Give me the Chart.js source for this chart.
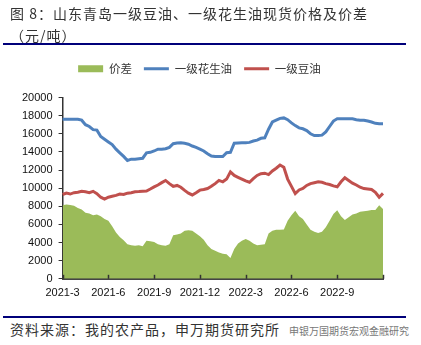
<!DOCTYPE html>
<html>
<head>
<meta charset="utf-8">
<script src="https://cdn.jsdelivr.net/npm/chart.js@4.4.0/dist/chart.umd.min.js"></script>
<style>
  body { margin: 0; background: #fff; }
  #wrap { position: relative; width: 421px; height: 345px; overflow: hidden; }
  #chart { position: absolute; left: 0; top: 0; }
  .cn { position: absolute; font-family: "Noto Sans CJK SC", sans-serif; color: #333; white-space: nowrap; }
  .rule { position: absolute; left: 3px; width: 403px; height: 2px; background: #00007a; }
</style>
</head>
<body>
<div id="wrap">
  <canvas id="chart" width="421" height="312"></canvas>
  <div class="cn" style="left:10px; top:3px; font-size:14px; letter-spacing:1px;">图 8：山东青岛一级豆油、一级花生油现货价格及价差</div>
  <div class="cn" style="left:10px; top:25px; font-size:14px; letter-spacing:1px;">（元/吨）</div>
  <div class="rule" style="top:43px;"></div>
  <div class="rule" style="top:316px;"></div>
  <div class="cn" style="left:10px; top:319px; font-size:14px; letter-spacing:1px;">资料来源：我的农产品，申万期货研究所</div>
  <div class="cn" style="left:289px; top:323px; font-size:10px; color:#777;">申银万国期货宏观金融研究</div>
</div>
<script>
// months on the x axis, 4 readings per month, last reading at 2022-12
const months = ['2021-3', '2021-4', '2021-5', '2021-6', '2021-7', '2021-8', '2021-9', '2021-10',
    '2021-11', '2021-12', '2022-1', '2022-2', '2022-3', '2022-4', '2022-5', '2022-6', '2022-7',
    '2022-8', '2022-9', '2022-10', '2022-11', '2022-12'];
const perMonth = 4;

// 一级花生油
const peanut = [17600, 17600, 17600, 17600, 17600, 17500, 17000, 16800, 16450, 16400,
    15700, 15400, 15100, 14800, 14300, 13900, 13500, 13050, 13200, 13200,
    13250, 13300, 13900, 13950, 14100, 14300, 14300, 14350, 14500, 14900,
    14980, 15000, 14950, 14850, 14650, 14500, 14300, 14100, 13800, 13550,
    13500, 13480, 13480, 13900, 13950, 14950, 14980, 15000, 15000, 15050,
    15200, 15300, 15500, 15550, 16500, 17300, 17500, 17700, 17750, 17550,
    17200, 16900, 16650, 16550, 16350, 16000, 15800, 15800, 15850, 16200,
    16800, 17400, 17650, 17650, 17650, 17650, 17650, 17550, 17500, 17480,
    17400, 17300, 17150, 17100, 17100];

// 一级豆油
const soy = [9300, 9450, 9350, 9500, 9550, 9650, 9600, 9500, 9650, 9400,
    9000, 8800, 9000, 9100, 9200, 9350, 9300, 9450, 9500, 9600,
    9620, 9650, 9680, 9900, 10140, 10350, 10610, 10850, 10500, 10200,
    10300, 10100, 9750, 9450, 9250, 9500, 9780, 9850, 9960, 10200,
    10500, 10850, 10700, 11000, 11800, 11400, 11200, 11000, 10800, 10650,
    11050, 11400, 11600, 11650, 11500, 11900, 12200, 12550, 12300, 11000,
    10200, 9400, 9800, 9960, 10300, 10500, 10600, 10700, 10650, 10500,
    10400, 10250, 10150, 10700, 11150, 10850, 10550, 10350, 10100, 9950,
    9900, 9850, 9550, 9000, 9420];

// 价差
const spread = [8100, 8200, 8150, 8050, 7800, 7650, 7300, 7200, 7000, 7100,
    6900, 6600, 6400, 5800, 5100, 4600, 4250, 3800, 3700, 3650,
    3700, 3600, 4200, 4150, 4050, 3800, 3700, 3650, 3800, 4800,
    4900, 5000, 5300, 5350, 5300, 5000, 4700, 4300, 3700, 3300,
    3100, 2900, 2750, 2700, 2300, 3300, 3900, 4200, 4400, 4200,
    3900, 3700, 3750, 3800, 5000, 5300, 5400, 5400, 5450, 6400,
    7000, 7500, 6900, 6600, 6000, 5400, 5200, 5050, 5200, 5700,
    6400, 7150, 7550, 6900, 6500, 6800, 7100, 7200, 7400, 7450,
    7500, 7600, 7600, 8100, 7700];

const labels = [];
for (let i = 0; i < spread.length; i++) {
    labels.push(months[Math.floor(i / perMonth)]);
}

const tickFont = { family: 'Liberation Sans', size: 11 };

// tick marks on the x axis point into the plot
const innerTicks = {
    id: 'innerTicks',
    afterDraw(chart) {
        const x = chart.scales.x;
        const c = chart.ctx;
        c.save();
        c.strokeStyle = '#333';
        c.lineWidth = 1.5;
        for (let i = 0; i < labels.length; i += perMonth * 3) {
            const px = Math.round(x.getPixelForValue(i)) + 0.5;
            c.beginPath();
            c.moveTo(px, x.top);
            c.lineTo(px, x.top - 4);
            c.stroke();
        }
        c.restore();
    }
};

// a bit more room under the legend
const legendGap = {
    id: 'legendGap',
    beforeInit(chart) {
        const fit = chart.legend.fit;
        chart.legend.fit = function () {
            fit.call(this);
            this.height += 13;
        };
    }
};

new Chart('chart', {
    type: 'line',
    data: {
        labels: labels,
        datasets: [{
            label: '价差',
            data: spread,
            fill: 'origin',
            backgroundColor: '#9bbb59',
            borderColor: '#9bbb59',
            borderWidth: 0,
            pointRadius: 0,
            pointStyle: 'rect',
            order: 1
        },
        {
            label: '一级花生油',
            data: peanut,
            borderColor: '#4f81bd',
            backgroundColor: '#4f81bd',
            borderWidth: 3,
            pointRadius: 0,
            pointStyle: 'line',
            order: 0
        },
        {
            label: '一级豆油',
            data: soy,
            borderColor: '#c0504d',
            backgroundColor: '#c0504d',
            borderWidth: 3,
            pointRadius: 0,
            pointStyle: 'line',
            order: 0
        }]
    },
    options: {
        responsive: false,
        animation: false,
        layout: { padding: { top: 51, left: 16, right: 38, bottom: 4 } },
        plugins: {
            legend: {
                labels: {
                    usePointStyle: true,
                    pointStyleWidth: 25,
                    boxHeight: 7,
                    padding: 12,
                    color: '#333',
                    font: { family: 'Noto Sans CJK SC', size: 11.5 },
                    sort: (a, b) => a.datasetIndex - b.datasetIndex
                }
            },
            tooltip: { enabled: false }
        },
        scales: {
            x: {
                grid: { display: true, drawOnChartArea: false, drawTicks: false },
                border: { display: true, color: '#444', width: 2 },
                ticks: {
                    autoSkip: false,
                    maxRotation: 0,
                    padding: 8,
                    color: '#111',
                    font: tickFont,
                    callback: (v, i) => (i % (perMonth * 3) === 0 && i < labels.length - 1) ? labels[i] : null
                }
            },
            y: {
                min: 0,
                max: 20000,
                grid: { drawOnChartArea: false, drawTicks: true, tickLength: 4, color: '#333' },
                border: { display: true, color: '#333', width: 1.5 },
                ticks: { stepSize: 2000, padding: 6, color: '#111', font: tickFont, callback: v => String(v) }
            }
        }
    },
    plugins: [innerTicks, legendGap]
});
</script>
</body>
</html>
